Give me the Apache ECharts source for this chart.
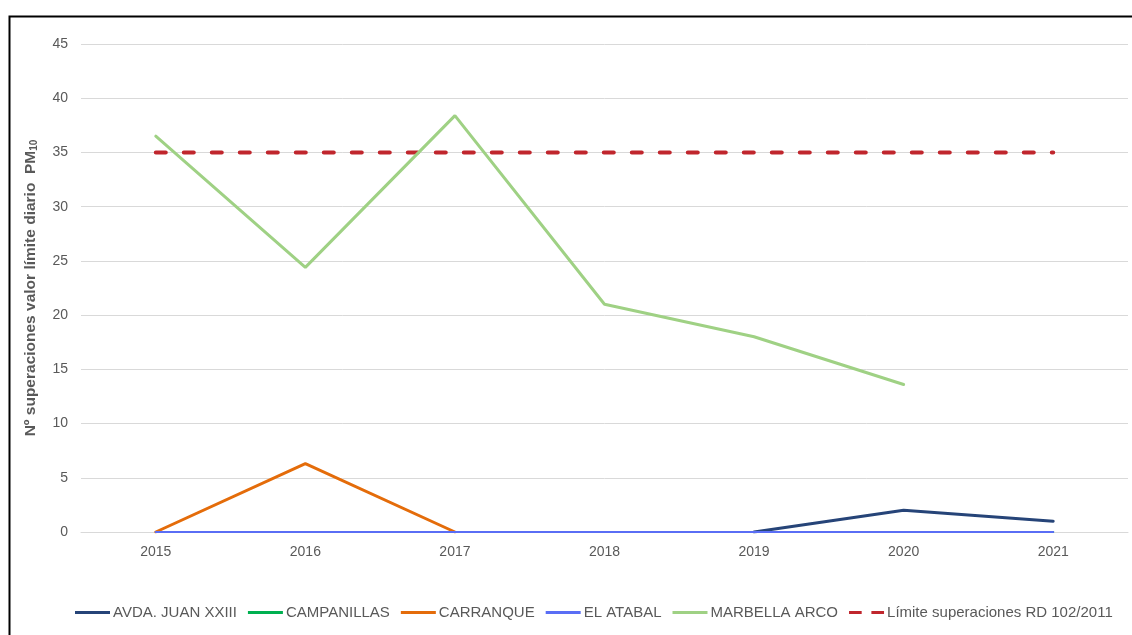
<!DOCTYPE html>
<html>
<head>
<meta charset="utf-8">
<script src="https://cdn.jsdelivr.net/npm/echarts@6/dist/echarts.min.js"></script>
<style>
  html, body { margin: 0; padding: 0; background: #fff; }
  #chart { width: 1132px; height: 635px; }
</style>
</head>
<body>
<div id="chart"></div>
<script>
// Years and yearly number of exceedances of the PM10 daily limit per station
const years = ['2015', '2016', '2017', '2018', '2019', '2020', '2021'];
const avdaJuanXXIII = [null, null, null, null, 0, 2, 1];
const campanillas = [0, 0, 0, 0, 0, 0, 0];
const carranque = [0, 6.3, 0, null, null, null, null];
const elAtabal = [0, 0, 0, 0, 0, 0, 0];
const marbellaArco = [36.5, 24.4, 38.4, 21, 18, 13.6, null];
const limite = [35, 35, 35, 35, 35, 35, 35];
const yTicks = { min: 0, max: 45, interval: 5 };

const font = 'Liberation Sans';
const grey = '#595959';

// Legend glyphs: a solid bar, and two dashes for the limit line
const solidIcon = 'path://M0,0H35V3H0Z';
const dashIcon = 'path://M1,0H14V3H1Z M24,0H37V3H24Z';

function lineSeries(name, data, color, width, z) {
  return {
    name: name,
    type: 'line',
    data: data,
    symbol: 'none',
    z: z,
    lineStyle: { color: color, width: width, cap: 'round' },
    itemStyle: { color: color },
    emphasis: { disabled: true }
  };
}

const chart = echarts.init(document.getElementById('chart'));
chart.setOption({
  animation: false,
  backgroundColor: '#fff',
  textStyle: { fontFamily: font },
  graphic: [{
    type: 'rect',
    left: 7, top: 14,
    shape: { width: 1140, height: 640 },
    style: { fill: 'none', stroke: '#000', lineWidth: 2 },
    silent: true
  }],
  grid: { left: 81, right: 4, top: 44, bottom: 103 },
  legend: {
    bottom: 10,
    left: 70,
    itemWidth: 35,
    itemHeight: 3,
    itemGap: 11,
    textStyle: { color: grey, fontSize: 15, fontFamily: font, padding: [0, 0, 0, -2] },
    data: [
      { name: 'AVDA. JUAN XXIII', icon: solidIcon },
      { name: 'CAMPANILLAS', icon: solidIcon },
      { name: 'CARRANQUE', icon: solidIcon },
      { name: 'EL ATABAL', icon: solidIcon },
      { name: 'MARBELLA ARCO', icon: solidIcon },
      { name: 'Límite superaciones RD 102/2011', icon: dashIcon }
    ]
  },
  xAxis: {
    type: 'category',
    data: years,
    boundaryGap: true,
    axisLine: { show: true, lineStyle: { color: '#d9d9d9' } },
    axisTick: { show: false },
    axisLabel: { color: grey, fontSize: 14, margin: 13 }
  },
  yAxis: {
    type: 'value',
    min: yTicks.min,
    max: yTicks.max,
    interval: yTicks.interval,
    axisLine: { show: false },
    axisTick: { show: false },
    splitLine: { lineStyle: { color: '#d9d9d9', width: 1 } },
    axisLabel: { color: grey, fontSize: 14, margin: 13 },
    name: '{t|Nº superaciones valor límite diario  PM}{s|10}',
    nameLocation: 'middle',
    nameGap: 42,
    nameRotate: 90,
    nameTextStyle: {
      rich: {
        t: { fontSize: 15.5, fontWeight: 'bold', color: grey, fontFamily: font },
        s: { fontSize: 10, fontWeight: 'bold', color: grey, fontFamily: font, verticalAlign: 'bottom', padding: [7, 0, 0, 0] }
      }
    }
  },
  series: [
    lineSeries('AVDA. JUAN XXIII', avdaJuanXXIII, '#264478', 3, 2),
    lineSeries('CAMPANILLAS', campanillas, '#00b050', 2, 2),
    lineSeries('CARRANQUE', carranque, '#e46c0a', 3, 2),
    lineSeries('EL ATABAL', elAtabal, '#5a6ef5', 2, 3),
    lineSeries('MARBELLA ARCO', marbellaArco, '#9fd184', 3, 4),
    {
      name: 'Límite superaciones RD 102/2011',
      type: 'line',
      data: limite,
      symbol: 'none',
      z: 3,
      lineStyle: { color: '#c0262d', width: 4, type: [10, 18], cap: 'round' },
      itemStyle: { color: '#c0262d' },
      emphasis: { disabled: true }
    }
  ]
});
</script>
</body>
</html>
